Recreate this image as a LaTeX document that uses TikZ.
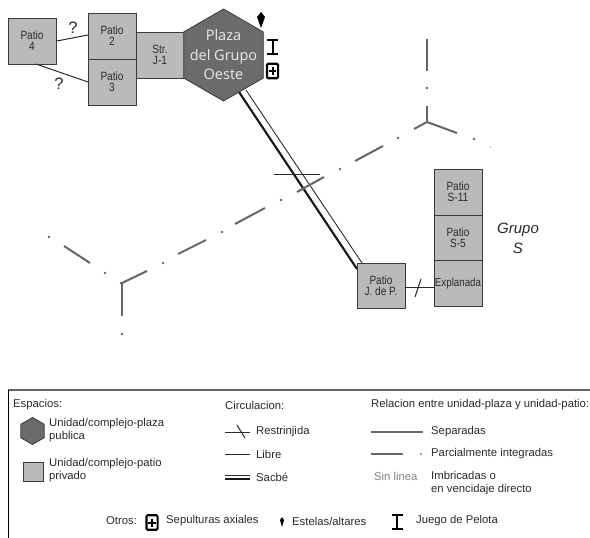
\documentclass[tikz,border=0pt]{standalone}
\usepackage{fontspec}
\setmainfont{Liberation Sans}
\newfontfamily\narrowfont[FakeStretch=0.84]{Liberation Sans}
\newfontfamily\plazafont{Open Sans}
\usetikzlibrary{shapes.geometric}
\definecolor{patiofill}{HTML}{B9BABC}
\definecolor{plazafill}{HTML}{6A6B6D}
\definecolor{edgedark}{HTML}{3A3A3C}
\definecolor{relgray}{HTML}{666668}
\definecolor{inkc}{HTML}{2A2A2A}
\tikzset{
  patio/.style={draw=edgedark,fill=patiofill,line width=1pt,minimum width=48pt,minimum height=46pt,inner sep=0pt,outer sep=0pt,align=center,text=inkc,font=\narrowfont\fontsize{12}{11}\selectfont},
  hexa/.style={regular polygon,regular polygon sides=6,shape border rotate=30,draw=edgedark,fill=plazafill,line width=0.8pt,inner sep=0pt,outer sep=0pt},
  libre/.style={draw=inkc,line width=1pt},
  sacthick/.style={draw=black!90,line width=2.2pt},
  rel/.style={draw=relgray,line width=2pt},
  reldot/.style={fill=relgray,draw=none},
  legtext/.style={anchor=west,inner sep=0pt,align=left,text=inkc,font=\fontsize{11.3}{13}\selectfont},
  qmark/.style={inner sep=0pt,text=inkc,font=\fontsize{16.5}{16}\selectfont},
  juegoicon/.pic={\draw[black,line width=2pt] (-5.5,-7) -- (5.5,-7) (0,-7) -- (0,7) (-5.5,7) -- (5.5,7);},
  sepicon/.pic={\draw[black,line width=2.2pt,fill=white,rounded corners=1.2pt] (-5.6,-7.2) rectangle (5.6,7.2);
    \draw[black,line width=2pt] (-3.8,0) -- (3.8,0) (0,-4) -- (0,4);}
}
\begin{document}
\begin{tikzpicture}[x=1pt,y=-1pt]
\useasboundingbox (0,0) rectangle (590,538);
% sacbe under the plaza
\coordinate (sa) at (239,92); \coordinate (sb) at (357,269);
\coordinate (ta) at (246,90); \coordinate (tb) at (362,263);
\draw[sacthick] (sa) -- (sb);
\draw[libre,line width=0.9pt] (ta) -- (tb);
% rooms
\node[patio] (p4) at (32,41) {Patio\\4};
\node[patio] (p2) at (112,36) {Patio\\2};
\node[patio] (p3) at (112,82) {Patio\\3};
\node[patio] (j1) at (160,55) {Str.\\J-1};
\node[hexa,minimum size=92pt,label={[text=white!92!black,font=\plazafont\fontsize{14.5}{19.5}\selectfont,align=center]center:Plaza\\del Grupo\\Oeste}] (plaza) at (223.5,55) {};
\node[patio] (s11) at (458,192) {Patio\\S-11};
\node[patio] (s5) at (458,238) {Patio\\S-5};
\node[patio,font=\narrowfont\fontsize{11.6}{11}\selectfont] (expl) at (458,283.5) {Explanada};
\node[patio,minimum height=45pt] (jp) at (381,285.5) {Patio\\J. de P.};
\node[inner sep=0pt,align=center,text=inkc,font=\itshape\fontsize{15}{20}\selectfont] (grupos) at (518,238) {Grupo\\S};
% free ends
\coordinate (a) at (57,41); \coordinate (b) at (88,35);
\coordinate (c) at (36,64); \coordinate (d) at (88,82);
\draw[libre] (a) -- (b);
\draw[libre] (c) -- (d);
\node[qmark] (q1) at (73,28) {?};
\node[qmark] (q2) at (59,84) {?};
\coordinate (ra) at (274,174); \coordinate (rb) at (320,174);
\draw[libre] (ra) -- (rb);
% J de P to Explanada
\draw[libre] (jp.east |- 0,287) -- (expl.west |- 0,287);
\coordinate (ka) at (421,279); \coordinate (kb) at (415,297);
\draw[libre] (ka) -- (kb);
% relation lines
\coordinate (yl) at (122,283);
\coordinate (yr) at (427,122);
\draw[rel] (yl) -- (147,271);
\draw[rel] (178,254) -- (206,240);
\draw[rel] (235,224) -- (265,208);
\draw[rel] (297,192) -- (324,177);
\draw[rel] (355,161) -- (383,146);
\draw[rel] (414,129) -- (yr);
\draw[rel] (yr) -- (457,133);
\draw[rel] (yr) -- (427,106);
\draw[rel] (427,71) -- (427,39);
\draw[rel] (yl) -- (122,316);
\draw[rel] (64,246) -- (90,263);
\foreach \px/\py in {163/263,222/232,281/200,340/169,398/138,474/139,427/88,122/334,105/273,49/237,121/283}
  \fill[reldot] (\px,\py) circle (1.4pt);
\fill[reldot] (490.5,147) circle (0.6pt);
% icons beside plaza
\path[fill=black] (261,12) -- (265,17) -- (261,28) -- (257,17) -- cycle;
\pic at (272.5,47) {juegoicon};
\pic at (272.5,71) {sepicon};
% legend frame
\coordinate (fa) at (8,390); \coordinate (fb) at (590,390); \coordinate (fc) at (8,538);
\draw[draw=relgray,line width=1.2pt] (fa) -- (fb);
\draw[draw=black,line width=0.9pt] (fa) -- (fc);
% legend columns
\node[legtext] (l1) at (13,405) {Espacios:};
\node[hexa,minimum size=27pt] (lh) at (32.5,431) {};
\node[legtext] (l2) at (49,430.5) {Unidad/complejo-plaza\\publica};
\node[draw=edgedark,fill=patiofill,line width=0.8pt,minimum width=20pt,minimum height=19pt,inner sep=0pt] (ls) at (33,471.5) {};
\node[legtext] (l3) at (49,470.5) {Unidad/complejo-patio\\privado};
\node[legtext] (l4) at (225,405) {Circulacion:};
\node[legtext] (t1) at (256,432) {Restrinjida};
\node[legtext] (t2) at (256,454) {Libre};
\node[legtext] (t3) at (256,477) {Sacbé};
\coordinate (c1a) at (225,432); \coordinate (c1b) at (250,432);
\draw[libre] (c1a) -- (c1b);
\coordinate (c1c) at (237,425); \coordinate (c1d) at (245,438);
\draw[libre] (c1c) -- (c1d);
\coordinate (c2a) at (225,454); \coordinate (c2b) at (250,454);
\draw[libre] (c2a) -- (c2b);
\coordinate (c3a) at (225,475); \coordinate (c3b) at (250,475);
\draw[libre] (c3a) -- (c3b);
\coordinate (c4a) at (225,479); \coordinate (c4b) at (250,479);
\draw[sacthick] (c4a) -- (c4b);
\node[legtext] (l5) at (371,405) {Relacion entre unidad-plaza y unidad-patio:};
\node[legtext] (r1) at (431,432) {Separadas};
\node[legtext] (r2) at (431,454) {Parcialmente integradas};
\node[legtext,text=black!50] (r3) at (374,476) {Sin linea};
\node[legtext] (r4) at (431,483) {Imbricadas o\\en vencidaje directo};
\coordinate (r1a) at (371,432); \coordinate (r1b) at (423,432);
\draw[rel] (r1a) -- (r1b);
\coordinate (r2a) at (371,454); \coordinate (r2b) at (403,454);
\draw[rel] (r2a) -- (r2b);
\fill[reldot] (421,454) circle (1pt);
% others
\node[legtext] (o1) at (106,521) {Otros:};
\pic at (152,522.5) {sepicon};
\node[legtext] (o2) at (166,521) {Sepulturas axiales};
\path[fill=black] (282,517) -- (284,520) -- (282,527) -- (280,520) -- cycle;
\node[legtext] (o3) at (292,521) {Estelas/altares};
\pic at (397,521.5) {juegoicon};
\node[legtext] (o4) at (416,521) {Juego de Pelota};
\end{tikzpicture}
\end{document}
